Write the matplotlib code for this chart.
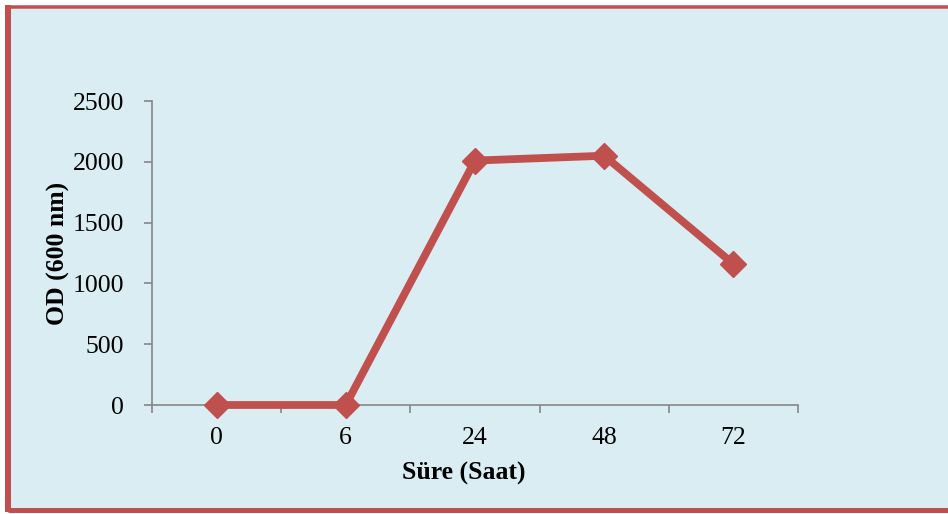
import matplotlib
matplotlib.use("Agg")
import matplotlib.pyplot as plt
from matplotlib.lines import Line2D
from matplotlib.patches import Rectangle
from matplotlib.ticker import FixedLocator, NullFormatter, FixedFormatter

# Growth data: optical density over time
time_labels = ["0", "6", "24", "48", "72"]
od_values = [0, 0, 2010, 2050, 1160]
y_ticks = [0, 500, 1000, 1500, 2000, 2500]

RED = "#C0504D"
BG = "#DAEDF3"
AXIS_GRAY = "#868686"

W, H = 948, 514
fig = plt.figure(figsize=(W / 100, H / 100), dpi=100, facecolor="white")

# Panel background and frame
fig.patches.append(Rectangle((8 / W, 1 - 509.5 / H), 1, (509.5 - 6.5) / H,
                             transform=fig.transFigure, facecolor=BG,
                             edgecolor="none", zorder=-10))
px = 72 / 100
fig.lines.append(Line2D([8 / W, 1], [1 - 6.5 / H, 1 - 6.5 / H], transform=fig.transFigure,
                        color=RED, lw=3.5 * px, solid_capstyle="butt", zorder=-5))
fig.lines.append(Line2D([8 / W, 1], [1 - 509.5 / H, 1 - 509.5 / H], transform=fig.transFigure,
                        color=RED, lw=5 * px, solid_capstyle="butt", zorder=-5))
fig.lines.append(Line2D([8 / W, 8 / W], [1 - 4.5 / H, 1 - 512 / H], transform=fig.transFigure,
                        color=RED, lw=6 * px, solid_capstyle="butt", zorder=-5))

ax = fig.add_axes([152 / W, 1 - 405 / H, (798 - 152) / W, (405 - 101) / H])
ax.set_facecolor("none")
ax.set_zorder(5)

x = list(range(len(time_labels)))
ax.plot(x, od_values, color=RED, lw=5.6, marker="D", markersize=13,
        markerfacecolor=RED, markeredgecolor=RED, zorder=3, clip_on=False)

ax.set_xlim(-0.5, len(time_labels) - 0.5)
ax.set_ylim(0, 2500)

font = "Liberation Serif"
fs = 18.5

# Category boundaries get the tick marks, centres get the labels
ax.xaxis.set_major_locator(FixedLocator([i - 0.5 for i in range(len(time_labels) + 1)]))
ax.xaxis.set_major_formatter(NullFormatter())
ax.xaxis.set_minor_locator(FixedLocator(x))
ax.xaxis.set_minor_formatter(FixedFormatter(time_labels))
ax.tick_params(axis="x", which="major", direction="out", length=6, width=1.2, color=AXIS_GRAY)
ax.tick_params(axis="x", which="minor", length=0, pad=16, labelsize=fs)

ax.set_yticks(y_ticks)
ax.tick_params(axis="y", direction="out", length=6, width=1.2, color=AXIS_GRAY,
               labelsize=fs, pad=14)

for lab in ax.get_xticklabels(minor=True) + ax.get_yticklabels():
    lab.set_fontfamily(font)

for s in ["top", "right"]:
    ax.spines[s].set_visible(False)
for s in ["left", "bottom"]:
    ax.spines[s].set_color(AXIS_GRAY)
    ax.spines[s].set_linewidth(1.2)

ax.set_xlabel("Süre (Saat)", fontfamily=font, fontweight="bold", fontsize=fs)
ax.set_ylabel("OD (600 nm)", fontfamily=font, fontweight="bold", fontsize=fs)
ax.xaxis.set_label_coords((464 - 152) / 646, (405 - 462) / 304)
ax.yaxis.set_label_coords((70 - 152) / 646, 0.5)

fig.savefig("out.png", dpi=100, facecolor="white")
